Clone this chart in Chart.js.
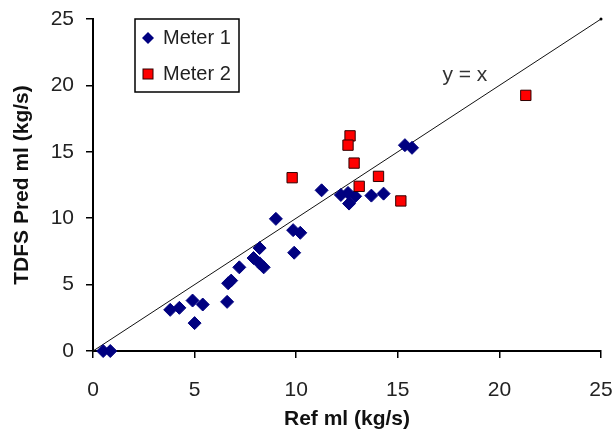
<!DOCTYPE html>
<html>
<head>
<meta charset="utf-8">
<script src="https://cdn.jsdelivr.net/npm/chart.js@4"></script>
<style>
html,body{margin:0;padding:0;background:#fff;}
#wrap{width:614px;height:436px;}
</style>
</head>
<body>
<div id="wrap"><canvas id="c" width="614" height="436"></canvas></div>
<script>
const meter1X = [0.5, 0.85, 3.8, 4.25, 4.9, 5.4, 5.0, 6.6, 6.65, 6.8, 7.2, 7.9, 8.2, 8.2, 8.4, 9.0, 9.85, 10.2, 9.9, 11.25, 12.2, 12.55, 12.9, 12.6, 13.7, 14.3, 15.35, 15.7];
const meter1Y = [0, 0, 3.1, 3.25, 3.8, 3.5, 2.1, 3.7, 5.1, 5.3, 6.3, 7.0, 7.75, 6.6, 6.3, 9.95, 9.1, 8.9, 7.4, 12.1, 11.75, 11.9, 11.65, 11.1, 11.7, 11.85, 15.5, 15.3];
const meter2X = [9.8, 12.65, 12.55, 12.85, 13.1, 14.05, 15.15, 21.3];
const meter2Y = [13.05, 16.2, 15.5, 14.15, 12.4, 13.15, 11.3, 19.25];
const lineX = [0, 25];
const lineY = [0, 25];
const seriesNames = ['Meter 1', 'Meter 2'];
const xTitle = 'Ref ml (kg/s)';
const yTitle = 'TDFS Pred ml (kg/s)';
const lineLabel = 'y = x';
const lineLabelPos = {x: 18.3, y: 20.8};

const FONT = '"Liberation Sans", Arial, sans-serif';
const BLUE = '#000080';
const RED = '#ff0000';

const zip = (xs, ys) => xs.map((x, i) => ({x, y: ys[i]}));

const overlay = {
  id: 'overlay',
  afterDatasetsDraw(chart) {
    const ctx = chart.ctx;
    const xs = chart.scales.x, ys = chart.scales.y;
    ctx.save();
    // y = x label
    ctx.fillStyle = '#333';
    ctx.font = '21px ' + FONT;
    ctx.textAlign = 'center';
    ctx.textBaseline = 'middle';
    ctx.fillText(lineLabel, xs.getPixelForValue(lineLabelPos.x), ys.getPixelForValue(lineLabelPos.y));
    // legend box
    const bx = 135, by = 19, bw = 104, bh = 73;
    ctx.fillStyle = '#fff';
    ctx.fillRect(bx, by, bw, bh);
    ctx.strokeStyle = '#000';
    ctx.lineWidth = 1.5;
    ctx.strokeRect(bx, by, bw, bh);
    // diamond
    const d = chart.data.datasets;
    ctx.fillStyle = d[0].backgroundColor;
    ctx.beginPath();
    ctx.moveTo(148, 32); ctx.lineTo(154, 38); ctx.lineTo(148, 44); ctx.lineTo(142, 38); ctx.closePath();
    ctx.fill();
    // square
    ctx.fillStyle = d[1].backgroundColor;
    ctx.fillRect(143, 69, 10, 10);
    ctx.strokeStyle = d[1].borderColor;
    ctx.lineWidth = 1;
    ctx.strokeRect(143, 69, 10, 10);
    ctx.fillStyle = '#222';
    ctx.font = '20px ' + FONT;
    ctx.textAlign = 'left';
    ctx.fillText(d[0].label, 163, 38);
    ctx.fillText(d[1].label, 163, 74);
    ctx.restore();
  }
};

new Chart(document.getElementById('c'), {
  type: 'scatter',
  data: {
    datasets: [
      {label: seriesNames[0], data: zip(meter1X, meter1Y), pointStyle: 'rectRot', pointRadius: 6.5, pointHoverRadius: 6.5,
       backgroundColor: BLUE, borderColor: BLUE, borderWidth: 1, order: 2, clip: false},
      {label: seriesNames[1], data: zip(meter2X, meter2Y), pointStyle: 'rect', pointRadius: 7.3, pointHoverRadius: 7.3,
       backgroundColor: RED, borderColor: '#300000', borderWidth: 1, order: 1, clip: false},
      {label: 'y=x', type: 'line', data: zip(lineX, lineY), borderColor: '#111', borderWidth: 1, pointRadius: [0, 1.5],
       pointBackgroundColor: '#000', pointBorderWidth: 0, fill: false, order: 3, clip: false}
    ]
  },
  options: {
    responsive: false,
    animation: false,
    devicePixelRatio: 1,
    layout: {padding: {top: 19, right: 13, left: 0, bottom: 0}},
    plugins: {legend: {display: false}, tooltip: {enabled: false}},
    scales: {
      x: {
        type: 'linear', min: 0, max: 25,
        ticks: {stepSize: 5, color: '#222', font: {family: FONT, size: 21}, padding: 20},
        grid: {drawOnChartArea: false, drawTicks: true, tickLength: 7, color: '#000', lineWidth: 1.5},
        border: {display: true, color: '#000', width: 2},
        title: {display: true, text: xTitle, color: '#111', font: {family: FONT, size: 21, weight: 'bold'}, padding: {top: 0, bottom: 4}},
        afterFit(s) { s.height = 85; s.paddingLeft = 0; s.paddingRight = 0; }
      },
      y: {
        type: 'linear', min: 0, max: 25,
        ticks: {stepSize: 5, color: '#222', font: {family: FONT, size: 21}, padding: 12},
        grid: {drawOnChartArea: false, drawTicks: true, tickLength: 7, color: '#000', lineWidth: 1.5},
        border: {display: true, color: '#000', width: 2},
        title: {display: true, text: yTitle, color: '#111', font: {family: FONT, size: 21, weight: 'bold'}, padding: {top: 10, bottom: 0}},
        afterFit(s) { s.width = 93; s.paddingTop = 0; s.paddingBottom = 0; }
      }
    }
  },
  plugins: [overlay]
});
</script>
</body>
</html>
